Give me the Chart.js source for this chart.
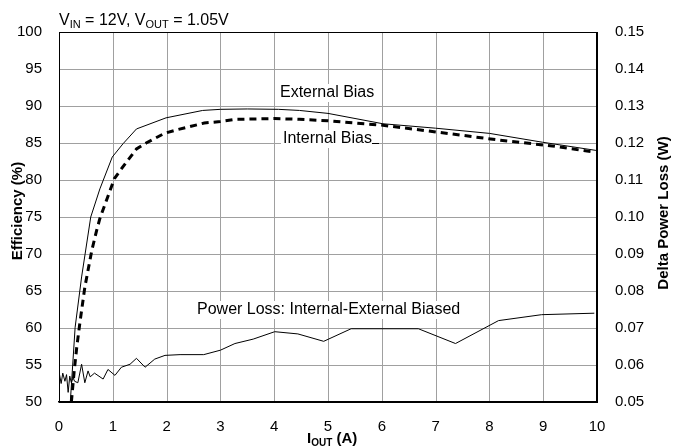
<!DOCTYPE html>
<html>
<head>
<meta charset="utf-8">
<script src="https://cdn.jsdelivr.net/npm/chart.js@4.4.0/dist/chart.umd.min.js"></script>
<style>
  html, body { margin: 0; padding: 0; background: #fff; }
  canvas { display: block; }
</style>
</head>
<body>
<canvas id="chart" width="678" height="447"></canvas>
<script>
// External bias efficiency (%), solid line
var extX   = [0.21, 0.30, 0.42, 0.59, 0.76, 0.99, 1.19, 1.44, 1.99, 2.67, 3.0, 3.5, 4.08, 4.47, 5.0, 6.02, 7.0, 8.0, 8.99, 9.98];
var extEff = [50.0, 60.1, 66.9, 75.0, 78.8, 83.1, 84.9, 86.9, 88.4, 89.4, 89.55, 89.6, 89.55, 89.4, 89.0, 87.6, 87.0, 86.3, 85.1, 84.0];

// Internal bias efficiency (%), dashed line
var intX   = [0.23, 0.28, 0.33, 0.39, 0.48, 0.61, 0.70, 0.76, 0.94, 1.03, 1.19, 1.44, 1.62, 1.96, 2.2, 2.7, 3.0, 3.28, 4.0, 4.47, 5.0, 5.5, 6.02, 7.0, 8.18, 9.17, 9.91];
var intEff = [50.0, 54.0, 57.4, 60.8, 65.5, 70.5, 73.2, 74.8, 78.4, 80.2, 81.8, 84.2, 85.0, 86.3, 86.8, 87.7, 87.9, 88.2, 88.3, 88.2, 88.0, 87.7, 87.4, 86.5, 85.4, 84.6, 83.8];

// Delta power loss (W), right axis
var lossX = [0.01, 0.04, 0.07, 0.11, 0.14, 0.17, 0.20, 0.23, 0.26, 0.29, 0.35, 0.42, 0.48, 0.54, 0.58, 0.66, 0.82, 0.91, 1.04, 1.16, 1.32, 1.44, 1.60, 1.78, 1.97, 2.25, 2.69, 3.00, 3.27, 3.61, 4.01, 4.44, 4.92, 5.43, 6.68, 7.37, 8.17, 8.97, 9.95];
var lossW = [0.0574, 0.0550, 0.0578, 0.0556, 0.0574, 0.0526, 0.0570, 0.0552, 0.0566, 0.0556, 0.0552, 0.0602, 0.0552, 0.0584, 0.0568, 0.0578, 0.0562, 0.0588, 0.0572, 0.0594, 0.0602, 0.0618, 0.0594, 0.0616, 0.0626, 0.0628, 0.0628, 0.0640, 0.0658, 0.0670, 0.0690, 0.0684, 0.0664, 0.0698, 0.0698, 0.0658, 0.0720, 0.0736, 0.0740];

// tick labels
var xTicks  = [0, 1, 2, 3, 4, 5, 6, 7, 8, 9, 10];
var yTicks  = [50, 55, 60, 65, 70, 75, 80, 85, 90, 95, 100];
var y2Ticks = [0.05, 0.06, 0.07, 0.08, 0.09, 0.10, 0.11, 0.12, 0.13, 0.14, 0.15];

var FONT = '"Liberation Sans", Arial, sans-serif';

function toPoints(xs, ys) {
    return xs.map(function (x, i) { return { x: x, y: ys[i] }; });
}

// draws text made of normal and subscript parts
function drawRich(ctx, parts, x, y, size, bold) {
    var w = bold ? 'bold ' : '';
    parts.forEach(function (p) {
        if (p.sub) {
            ctx.font = w + Math.round(size * 0.68) + 'px ' + FONT;
            ctx.fillText(p.t, x, y + 3);
        } else {
            ctx.font = w + size + 'px ' + FONT;
            ctx.fillText(p.t, x, y);
        }
        x += ctx.measureText(p.t).width;
    });
}

function boxedLabel(ctx, text, x, cy) {
    ctx.font = '16px ' + FONT;
    var w = ctx.measureText(text).width;
    ctx.fillStyle = '#fff';
    ctx.fillRect(x - 2, cy - 9, w + 4, 18);
    ctx.fillStyle = '#000';
    ctx.textBaseline = 'middle';
    ctx.fillText(text, x, cy);
    return w;
}

var textPlugin = {
    id: 'texts',
    afterDraw: function (chart) {
        var ctx = chart.ctx;
        var a = chart.chartArea;
        var sx = chart.scales.x, sy = chart.scales.y;
        ctx.save();

        // curve labels (white boxes hide the grid below them)
        boxedLabel(ctx, 'External Bias', 280, 93);
        var w = boxedLabel(ctx, 'Internal Bias', 283, 139);
        ctx.strokeStyle = '#000';
        ctx.lineWidth = 1;
        ctx.beginPath();
        ctx.moveTo(283 + w, 143.5);
        ctx.lineTo(379, 143.5);
        ctx.stroke();
        boxedLabel(ctx, 'Power Loss: Internal-External Biased', 197, 310);

        // grid, painted behind what is already drawn
        ctx.globalCompositeOperation = 'destination-over';
        ctx.strokeStyle = '#a0a0a0';
        ctx.lineWidth = 1;
        ctx.beginPath();
        sx.ticks.forEach(function (t) {
            var px = Math.round(sx.getPixelForValue(t.value)) + 0.5;
            ctx.moveTo(px, a.top);
            ctx.lineTo(px, a.bottom);
        });
        sy.ticks.forEach(function (t) {
            var py = Math.round(sy.getPixelForValue(t.value)) + 0.5;
            ctx.moveTo(a.left, py);
            ctx.lineTo(a.right, py);
        });
        ctx.stroke();
        ctx.globalCompositeOperation = 'source-over';

        // frame
        ctx.strokeStyle = '#000';
        ctx.strokeRect(Math.round(a.left) + 0.5, Math.round(a.top) + 0.5, Math.round(a.right - a.left) - 1, Math.round(a.bottom - a.top));

        // header
        ctx.fillStyle = '#000';
        ctx.textBaseline = 'alphabetic';
        drawRich(ctx, [{ t: 'V' }, { t: 'IN', sub: true }, { t: ' = 12V, V' }, { t: 'OUT', sub: true }, { t: ' = 1.05V' }], 59, 25, 16, false);

        // x axis title
        drawRich(ctx, [{ t: 'I' }, { t: 'OUT', sub: true }, { t: ' (A)' }], 307, 443, 15, true);

        // y axis titles
        ctx.font = 'bold 15px ' + FONT;
        ctx.textAlign = 'center';
        ctx.textBaseline = 'middle';
        ctx.save();
        ctx.translate(18, 211);
        ctx.rotate(-Math.PI / 2);
        ctx.fillText('Efficiency (%)', 0, 0);
        ctx.restore();
        ctx.save();
        ctx.translate(664, 213);
        ctx.rotate(-Math.PI / 2);
        ctx.fillText('Delta Power Loss (W)', 0, 0);
        ctx.restore();

        ctx.restore();
    }
};

var tickFont = { family: FONT, size: 15 };

new Chart(document.getElementById('chart'), {
    type: 'line',
    data: {
        datasets: [{
            label: 'External Bias',
            data: toPoints(extX, extEff),
            borderColor: '#000',
            borderWidth: 1,
            yAxisID: 'y'
        }, {
            label: 'Internal Bias',
            data: toPoints(intX, intEff),
            borderColor: '#000',
            borderWidth: 3,
            borderDash: [7, 5],
            yAxisID: 'y'
        }, {
            label: 'Power Loss: Internal-External Biased',
            data: toPoints(lossX, lossW),
            borderColor: '#000',
            borderWidth: 1,
            yAxisID: 'y2'
        }]
    },
    options: {
        responsive: false,
        animation: false,
        events: [],
        layout: { padding: { top: 32, left: 0, right: 0, bottom: 0 } },
        elements: {
            point: { radius: 0 },
            line: { tension: 0, borderCapStyle: 'butt' }
        },
        plugins: {
            legend: { display: false },
            tooltip: { enabled: false }
        },
        scales: {
            x: {
                type: 'linear',
                min: xTicks[0],
                max: xTicks[xTicks.length - 1],
                afterFit: function (s) { s.height = 45; },
                ticks: { font: tickFont, color: '#000', padding: 8, maxRotation: 0, stepSize: xTicks[1] - xTicks[0] },
                grid: { display: false },
                border: { color: '#000', width: 1.5 }
            },
            y: {
                position: 'left',
                min: yTicks[0],
                max: yTicks[yTicks.length - 1],
                afterFit: function (s) { s.width = 59; },
                ticks: { font: tickFont, color: '#000', padding: 9, stepSize: yTicks[1] - yTicks[0] },
                grid: { display: false },
                border: { color: '#000', width: 1 }
            },
            y2: {
                position: 'right',
                min: y2Ticks[0],
                max: y2Ticks[y2Ticks.length - 1],
                afterBuildTicks: function (s) {
                    s.ticks = y2Ticks.map(function (v) { return { value: v }; });
                },
                afterFit: function (s) { s.width = 81; },
                ticks: {
                    font: tickFont, color: '#000', padding: 10,
                    callback: function (v) { return v.toFixed(2); }
                },
                grid: { display: false },
                border: { color: '#000', width: 1 }
            }
        }
    },
    plugins: [textPlugin]
});
</script>
</body>
</html>
